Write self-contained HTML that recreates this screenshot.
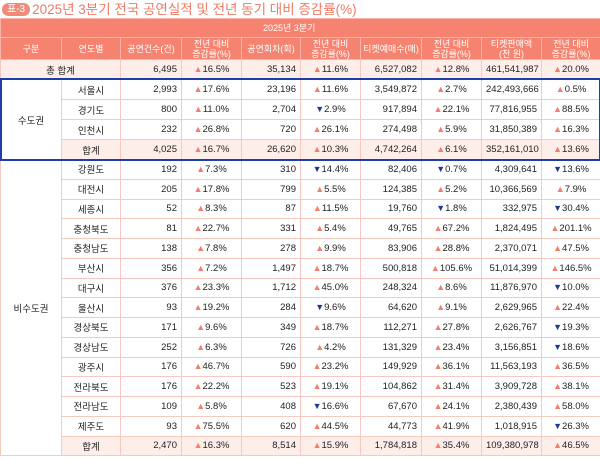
<!DOCTYPE html><html><head><meta charset="utf-8"><style>
body{margin:0;width:600px;height:460px;overflow:hidden;background:#fff;font-family:"Liberation Sans","Noto Sans CJK KR",sans-serif;}
.title{position:absolute;left:2px;top:1px;height:17px;font-size:13.5px;color:#ef7a66;line-height:17px;white-space:nowrap}
.badge{display:inline-block;background:#f08b78;color:#fff;font-size:10px;border-radius:8px;padding:0 5px;height:13px;line-height:13px;vertical-align:2px;margin-right:2px}
table{position:absolute;left:0;top:18px;width:600px;border-collapse:collapse;table-layout:fixed;font-size:9.5px;color:#222}
td,th{border:1px solid #f8c9bf;padding:0 4px;overflow:hidden;white-space:nowrap}
th{background:#f6836f;color:#fff;font-weight:normal;border-color:#fbb5a8;line-height:10px;font-size:9px;padding:0 1px}
.h1 th{height:18px;text-align:left;padding-left:262px}
.h2 th{height:21px}
td{text-align:right}
td.c{text-align:center}
.r20 td{height:19px}
.r18 td{height:18.75px}
.sum td{background:#fdeeea}
.u{color:#f07f6c;font-size:9px}
.d{color:#1f3a93;font-size:9px}
.box{position:absolute;left:0;top:78px;width:597px;height:79px;border:2px solid #1e3fa8;box-sizing:content-box}
</style></head><body>
<div class="title"><span class="badge">표-3</span>2025년 3분기 전국 공연실적 및 전년 동기 대비 증감률(%)</div>
<table>
<colgroup><col style="width:61px"><col style="width:59px"><col style="width:61px"><col style="width:60px"><col style="width:59px"><col style="width:60px"><col style="width:61px"><col style="width:60px"><col style="width:60px"><col style="width:59px"></colgroup>
<tr class="h1"><th colspan="10">2025년 3분기</th></tr>
<tr class="h2"><th>구분</th><th>연도별</th><th>공연건수(건)</th><th>전년 대비<br>증감률(%)</th><th>공연회차(회)</th><th>전년 대비<br>증감률(%)</th><th>티켓예매수(매)</th><th>전년 대비<br>증감률(%)</th><th>티켓판매액<br>(천 원)</th><th>전년 대비<br>증감률(%)</th></tr>
<tr class="r20 sum"><td class="c" colspan="2">총 합계</td><td>6,495</td><td class="c"><span class="u">▲</span>16.5%</td><td>35,134</td><td class="c"><span class="u">▲</span>11.6%</td><td>6,527,082</td><td class="c"><span class="u">▲</span>12.8%</td><td>461,541,987</td><td class="c"><span class="u">▲</span>20.0%</td></tr>
<tr class="r20"><td class="c" rowspan="4">수도권</td><td class="c">서울시</td><td>2,993</td><td class="c"><span class="u">▲</span>17.6%</td><td>23,196</td><td class="c"><span class="u">▲</span>11.6%</td><td>3,549,872</td><td class="c"><span class="u">▲</span>2.7%</td><td>242,493,666</td><td class="c"><span class="u">▲</span>0.5%</td></tr>
<tr class="r20"><td class="c">경기도</td><td>800</td><td class="c"><span class="u">▲</span>11.0%</td><td>2,704</td><td class="c"><span class="d">▼</span>2.9%</td><td>917,894</td><td class="c"><span class="u">▲</span>22.1%</td><td>77,816,955</td><td class="c"><span class="u">▲</span>88.5%</td></tr>
<tr class="r20"><td class="c">인천시</td><td>232</td><td class="c"><span class="u">▲</span>26.8%</td><td>720</td><td class="c"><span class="u">▲</span>26.1%</td><td>274,498</td><td class="c"><span class="u">▲</span>5.9%</td><td>31,850,389</td><td class="c"><span class="u">▲</span>16.3%</td></tr>
<tr class="r20 sum"><td class="c">합계</td><td>4,025</td><td class="c"><span class="u">▲</span>16.7%</td><td>26,620</td><td class="c"><span class="u">▲</span>10.3%</td><td>4,742,264</td><td class="c"><span class="u">▲</span>6.1%</td><td>352,161,010</td><td class="c"><span class="u">▲</span>13.6%</td></tr>
<tr class="r18"><td class="c" rowspan="16" style="background:#fff">비수도권</td><td class="c">강원도</td><td>192</td><td class="c"><span class="u">▲</span>7.3%</td><td>310</td><td class="c"><span class="d">▼</span>14.4%</td><td>82,406</td><td class="c"><span class="d">▼</span>0.7%</td><td>4,309,641</td><td class="c"><span class="d">▼</span>13.6%</td></tr>
<tr class="r18"><td class="c">대전시</td><td>205</td><td class="c"><span class="u">▲</span>17.8%</td><td>799</td><td class="c"><span class="u">▲</span>5.5%</td><td>124,385</td><td class="c"><span class="u">▲</span>5.2%</td><td>10,366,569</td><td class="c"><span class="u">▲</span>7.9%</td></tr>
<tr class="r18"><td class="c">세종시</td><td>52</td><td class="c"><span class="u">▲</span>8.3%</td><td>87</td><td class="c"><span class="u">▲</span>11.5%</td><td>19,760</td><td class="c"><span class="d">▼</span>1.8%</td><td>332,975</td><td class="c"><span class="d">▼</span>30.4%</td></tr>
<tr class="r18"><td class="c">충청북도</td><td>81</td><td class="c"><span class="u">▲</span>22.7%</td><td>331</td><td class="c"><span class="u">▲</span>5.4%</td><td>49,765</td><td class="c"><span class="u">▲</span>67.2%</td><td>1,824,495</td><td class="c"><span class="u">▲</span>201.1%</td></tr>
<tr class="r18"><td class="c">충청남도</td><td>138</td><td class="c"><span class="u">▲</span>7.8%</td><td>278</td><td class="c"><span class="u">▲</span>9.9%</td><td>83,906</td><td class="c"><span class="u">▲</span>28.8%</td><td>2,370,071</td><td class="c"><span class="u">▲</span>47.5%</td></tr>
<tr class="r18"><td class="c">부산시</td><td>356</td><td class="c"><span class="u">▲</span>7.2%</td><td>1,497</td><td class="c"><span class="u">▲</span>18.7%</td><td>500,818</td><td class="c"><span class="u">▲</span>105.6%</td><td>51,014,399</td><td class="c"><span class="u">▲</span>146.5%</td></tr>
<tr class="r18"><td class="c">대구시</td><td>376</td><td class="c"><span class="u">▲</span>23.3%</td><td>1,712</td><td class="c"><span class="u">▲</span>45.0%</td><td>248,324</td><td class="c"><span class="u">▲</span>8.6%</td><td>11,876,970</td><td class="c"><span class="d">▼</span>10.0%</td></tr>
<tr class="r18"><td class="c">울산시</td><td>93</td><td class="c"><span class="u">▲</span>19.2%</td><td>284</td><td class="c"><span class="d">▼</span>9.6%</td><td>64,620</td><td class="c"><span class="u">▲</span>9.1%</td><td>2,629,965</td><td class="c"><span class="u">▲</span>22.4%</td></tr>
<tr class="r18"><td class="c">경상북도</td><td>171</td><td class="c"><span class="u">▲</span>9.6%</td><td>349</td><td class="c"><span class="u">▲</span>18.7%</td><td>112,271</td><td class="c"><span class="u">▲</span>27.8%</td><td>2,626,767</td><td class="c"><span class="d">▼</span>19.3%</td></tr>
<tr class="r18"><td class="c">경상남도</td><td>252</td><td class="c"><span class="u">▲</span>6.3%</td><td>726</td><td class="c"><span class="u">▲</span>4.2%</td><td>131,329</td><td class="c"><span class="u">▲</span>23.4%</td><td>3,156,851</td><td class="c"><span class="d">▼</span>18.6%</td></tr>
<tr class="r18"><td class="c">광주시</td><td>176</td><td class="c"><span class="u">▲</span>46.7%</td><td>590</td><td class="c"><span class="u">▲</span>23.2%</td><td>149,929</td><td class="c"><span class="u">▲</span>36.1%</td><td>11,563,193</td><td class="c"><span class="u">▲</span>36.5%</td></tr>
<tr class="r18"><td class="c">전라북도</td><td>176</td><td class="c"><span class="u">▲</span>22.2%</td><td>523</td><td class="c"><span class="u">▲</span>19.1%</td><td>104,862</td><td class="c"><span class="u">▲</span>31.4%</td><td>3,909,728</td><td class="c"><span class="u">▲</span>38.1%</td></tr>
<tr class="r18"><td class="c">전라남도</td><td>109</td><td class="c"><span class="u">▲</span>5.8%</td><td>408</td><td class="c"><span class="d">▼</span>16.6%</td><td>67,670</td><td class="c"><span class="u">▲</span>24.1%</td><td>2,380,439</td><td class="c"><span class="u">▲</span>58.0%</td></tr>
<tr class="r18"><td class="c">제주도</td><td>93</td><td class="c"><span class="u">▲</span>75.5%</td><td>620</td><td class="c"><span class="u">▲</span>44.5%</td><td>44,773</td><td class="c"><span class="u">▲</span>41.9%</td><td>1,018,915</td><td class="c"><span class="d">▼</span>26.3%</td></tr>
<tr class="r18 sum"><td class="c">합계</td><td>2,470</td><td class="c"><span class="u">▲</span>16.3%</td><td>8,514</td><td class="c"><span class="u">▲</span>15.9%</td><td>1,784,818</td><td class="c"><span class="u">▲</span>35.4%</td><td>109,380,978</td><td class="c"><span class="u">▲</span>46.5%</td></tr>
</table>
<div class="box"></div>
</body></html>
